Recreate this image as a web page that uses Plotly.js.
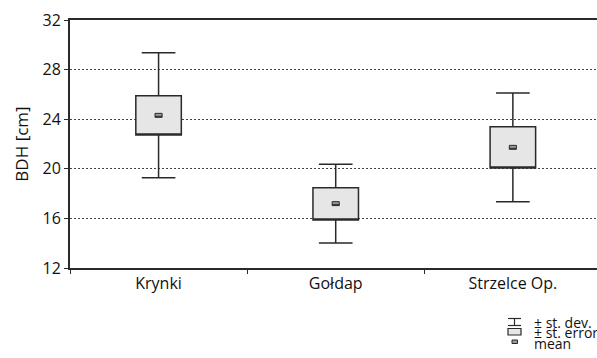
<!DOCTYPE html>
<html>
<head>
<meta charset="utf-8">
<script src="https://cdn.plot.ly/plotly-3.0.1.min.js"></script>
<style>html,body{margin:0;padding:0;background:#fff;}#chart{width:597px;height:358px;}</style>
</head>
<body>
<div id="chart"></div>
<script>
// Data (BDH in cm)
var categories = ["Krynki", "Gołdap", "Strzelce Op."];
var meanVals  = [24.31, 17.19, 21.73];
var seLow     = [22.73, 15.87, 20.06];
var seHigh    = [25.90, 18.48, 23.40];
var sdLow     = [19.28, 14.02, 17.35];
var sdHigh    = [29.36, 20.36, 26.11];
var yTicks    = [12, 16, 20, 24, 28, 32];
var legendLabels = ["± st. dev.", "± st. error", "mean"];

var FONT = "'Open Sans', 'DejaVu Sans', sans-serif";
var AX = "#2a2a2a";

var boxTrace = {
  type: "box",
  x: categories,
  q1: seLow,
  median: seLow,
  q3: seHigh,
  lowerfence: sdLow,
  upperfence: sdHigh,
  boxpoints: false,
  width: 0.257,
  whiskerwidth: 0.74,
  fillcolor: "#e6e6e6",
  line: {color: AX, width: 1.5},
  hoverinfo: "skip",
  showlegend: false
};

// mean drawn as a small flat rectangle centred on the mean value
var meanHalf = 0.16;
var meanLo = meanVals.map(function (m) { return m - meanHalf; });
var meanHi = meanVals.map(function (m) { return m + meanHalf; });
var meanTrace = {
  type: "box",
  x: categories,
  q1: meanLo,
  median: meanLo,
  q3: meanHi,
  lowerfence: meanLo,
  upperfence: meanHi,
  boxpoints: false,
  width: 0.04,
  whiskerwidth: 0,
  fillcolor: "#9a9a9a",
  line: {color: AX, width: 1},
  hoverinfo: "skip",
  showlegend: false
};

// pixel -> paper helpers for the hand-drawn key below the plot
var L = 70, T = 20, W = 527, H = 248;
function px(x) { return (x - L) / W; }
function py(y) { return (T + H - y) / H; }

var shapes = [
  // st. dev. key
  {type: "line", xref: "paper", yref: "paper", x0: px(508), x1: px(521), y0: py(318.5), y1: py(318.5), line: {color: AX, width: 1.2}},
  {type: "line", xref: "paper", yref: "paper", x0: px(508), x1: px(521), y0: py(325.5), y1: py(325.5), line: {color: AX, width: 1.2}},
  {type: "line", xref: "paper", yref: "paper", x0: px(514.5), x1: px(514.5), y0: py(318.5), y1: py(325.5), line: {color: AX, width: 1.2}},
  // st. error key
  {type: "rect", xref: "paper", yref: "paper", x0: px(508), x1: px(521), y0: py(328.5), y1: py(335), fillcolor: "#e6e6e6", line: {color: AX, width: 1.2}},
  // mean key
  {type: "rect", xref: "paper", yref: "paper", x0: px(512), x1: px(517.5), y0: py(340), y1: py(343.5), fillcolor: "#9a9a9a", line: {color: AX, width: 1}}
];

var keyY = [322, 332.5, 343];
var annotations = legendLabels.map(function (t, i) {
  return {
    text: t, xref: "paper", yref: "paper", x: px(532), y: py(keyY[i]),
    xanchor: "left", yanchor: "middle", showarrow: false,
    font: {family: FONT, size: 14, color: "#111"}
  };
});

var layout = {
  width: 597, height: 358,
  margin: {l: L, r: 0, t: T, b: 358 - T - H, pad: 0},
  paper_bgcolor: "#fff", plot_bgcolor: "#fff",
  font: {family: FONT, size: 16, color: "#111"},
  showlegend: false,
  boxmode: "overlay",
  xaxis: {
    type: "category",
    range: [-0.5, 2.475],
    showline: true, linecolor: AX, linewidth: 2,
    mirror: true,
    ticks: "outside", ticklen: 4, tickcolor: AX, tickwidth: 1,
    tickson: "boundaries",
    showgrid: false, zeroline: false,
    tickfont: {family: FONT, size: 16, color: "#111"}
  },
  yaxis: {
    range: [12, 32],
    tickvals: yTicks,
    ticktext: yTicks.map(String),
    showline: true, linecolor: AX, linewidth: 2,
    ticks: "outside", ticklen: 4, tickcolor: AX, tickwidth: 1,
    showgrid: true, gridcolor: "#444", gridwidth: 1, griddash: "2px,2px",
    zeroline: false,
    tickfont: {family: FONT, size: 16, color: "#111"},
    title: {text: "BDH [cm]", font: {family: FONT, size: 17, color: "#111"}, standoff: 10}
  },
  shapes: shapes,
  annotations: annotations
};

Plotly.newPlot("chart", [boxTrace, meanTrace], layout, {displayModeBar: false, staticPlot: true});
</script>
</body>
</html>
